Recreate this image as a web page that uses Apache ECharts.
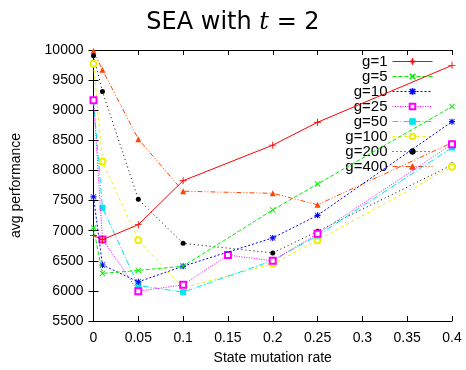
<!DOCTYPE html>
<html>
<head>
<meta charset="utf-8">
<script src="https://cdn.jsdelivr.net/npm/echarts@6/dist/echarts.min.js"></script>
<style>
html,body{margin:0;padding:0;background:#fff;}
#c{width:466px;height:370px;}
</style>
</head>
<body>
<div id="c"></div>
<script>
// x values (state mutation rate)
const rates = [0, 0.01, 0.05, 0.1, 0.15, 0.2, 0.25, 0.4];
const xTicks = ['0', '0.05', '0.1', '0.15', '0.2', '0.25', '0.3', '0.35', '0.4'];
// series values (null = no point at that rate)
const g1   = [6920, 6850, 7100, 7830, null, 8420, 8800, 9745];
const g5   = [7050, 6290, 6340, 6410, null, 7345, 7775, 9060];
const g10  = [7560, 6430, 6150, 6410, null, 6880, 7255, 8810];
const g25  = [9165, 6855, 5995, 6100, 6595, 6500, 6950, 8435];
const g50  = [9165, 7380, 6090, 5980, null, 6505, 6920, 8380];
const g100 = [9770, 8150, 6840, 6050, null, 6450, 6840, 8060];
const g200 = [9905, 9310, 7520, 6790, null, 6630, 6990, 8090];
const g400 = [9985, 9670, 8520, 7655, null, 7620, 7430, 8460];
const names = ['g=1', 'g=5', 'g=10', 'g=25', 'g=50', 'g=100', 'g=200', 'g=400'];
const values = [g1, g5, g10, g25, g50, g100, g200, g400];

const PLUS = 'path://M-1,-0.13H1V0.13H-1Z M-0.13,-1H0.13V1H-0.13Z';
const CROSS = 'path://M-0.88,-1.12L1.12,0.88L0.88,1.12L-1.12,-0.88Z M-1.12,0.88L0.88,-1.12L1.12,-0.88L-0.88,1.12Z';
const STAR = 'path://M-1,-0.2H1V0.2H-1Z M-0.2,-1H0.2V1H-0.2Z M-0.8,-0.97L0.97,0.8L0.8,0.97L-0.97,-0.8Z M-0.97,0.8L0.8,-0.97L0.97,-0.8L-0.8,0.97Z';

const styles = [
  {color:'#ff0000', symbol:PLUS,  size:7, dash:'solid', bw:0},
  {color:'#00ee00', symbol:CROSS, size:6, dash:[4,2], bw:0},
  {color:'#0000ff', symbol:STAR,  size:6, dash:[2,2], bw:0},
  {color:'#ff00ff', symbol:'emptyRect', size:6, dash:[1,1.5], bw:1},
  {color:'#00e5ee', symbol:'rect', size:6, dash:[6,2,1,2], bw:0},
  {color:'#eeee00', symbol:'emptyCircle', size:6, dash:[3,3], bw:1},
  {color:'#000000', symbol:'circle', size:5, dash:[1,3], bw:0},
  {color:'#ff4500', symbol:'triangle', size:6, dash:[5,2,1,2,1,2], bw:0}
];

const series = names.map((n, k) => ({
  name: n,
  type: 'line',
  data: rates.map((r, i) => [r, values[k][i]]).filter(p => p[1] !== null),
  symbol: styles[k].symbol,
  symbolSize: styles[k].size,
  showAllSymbol: true,
  animation: false,
  lineStyle: {color: styles[k].color, width: 1, type: styles[k].dash},
  itemStyle: {color: styles[k].color, borderColor: styles[k].color, borderWidth: styles[k].bw},
  emphasis: {disabled: true},
  z: 10 - k
}));

const font = 'Liberation Sans, Arial, sans-serif';
const chart = echarts.init(document.getElementById('c'), null, {renderer: 'canvas'});
chart.setOption({
  backgroundColor: '#fff',
  animation: false,
  title: {
    text: '{a|SEA with }{b|t}{a| = 2}',
    left: 'center',
    top: 6,
    textStyle: {
      fontWeight: 'normal',
      rich: {
        a: {fontSize: 24, fontFamily: 'DejaVu Sans', fontWeight: 'normal', color: '#000'},
        b: {fontSize: 24, fontFamily: 'DejaVu Serif', fontStyle: 'italic', fontWeight: 'normal', color: '#000'}
      }
    }
  },
  grid: {left: 93.5, right: 14, top: 50, bottom: 45, containLabel: false},
  legend: {
    orient: 'vertical',
    right: 33,
    top: 54,
    align: 'right',
    itemWidth: 40,
    itemHeight: 7,
    itemGap: 0,
    padding: 0,
    selectedMode: false,
    lineStyle: {width: 1},
    itemStyle: {borderWidth: 1},
    textStyle: {fontSize: 15, fontFamily: font, color: '#000', lineHeight: 15},
    data: names
  },
  xAxis: [{
    type: 'value', min: 0, max: 0.4, interval: 0.05,
    name: 'State mutation rate', nameLocation: 'middle', nameGap: 30,
    nameTextStyle: {fontSize: 14, fontFamily: font, color: '#000'},
    axisLine: {show: true, lineStyle: {color: '#000', width: 1}},
    axisTick: {show: true, inside: true, length: 5, lineStyle: {color: '#000'}},
    axisLabel: {fontSize: 14, fontFamily: font, color: '#000', margin: 10,
      formatter: (v) => xTicks[Math.round(v / 0.05)]},
    splitLine: {show: false}
  }, {
    type: 'value', position: 'top', min: 0, max: 0.4, interval: 0.05,
    axisLine: {show: true, lineStyle: {color: '#000', width: 1}},
    axisTick: {show: true, inside: true, length: 5, lineStyle: {color: '#000'}},
    axisLabel: {show: false}, splitLine: {show: false}
  }],
  yAxis: [{
    type: 'value', min: 5500, max: 10000, interval: 500,
    name: 'avg performance', nameLocation: 'middle', nameGap: 70,
    nameTextStyle: {fontSize: 14, fontFamily: font, color: '#000'},
    axisLine: {show: true, lineStyle: {color: '#000', width: 1}},
    axisTick: {show: true, inside: true, length: 5, lineStyle: {color: '#000'}},
    axisLabel: {fontSize: 14, fontFamily: font, color: '#000', margin: 10,
      formatter: (v) => String(v)},
    splitLine: {show: false}
  }, {
    type: 'value', position: 'right', min: 5500, max: 10000, interval: 500,
    axisLine: {show: true, lineStyle: {color: '#000', width: 1}},
    axisTick: {show: true, inside: true, length: 5, lineStyle: {color: '#000'}},
    axisLabel: {show: false}, splitLine: {show: false}
  }],
  series: series
});
</script>
</body>
</html>
